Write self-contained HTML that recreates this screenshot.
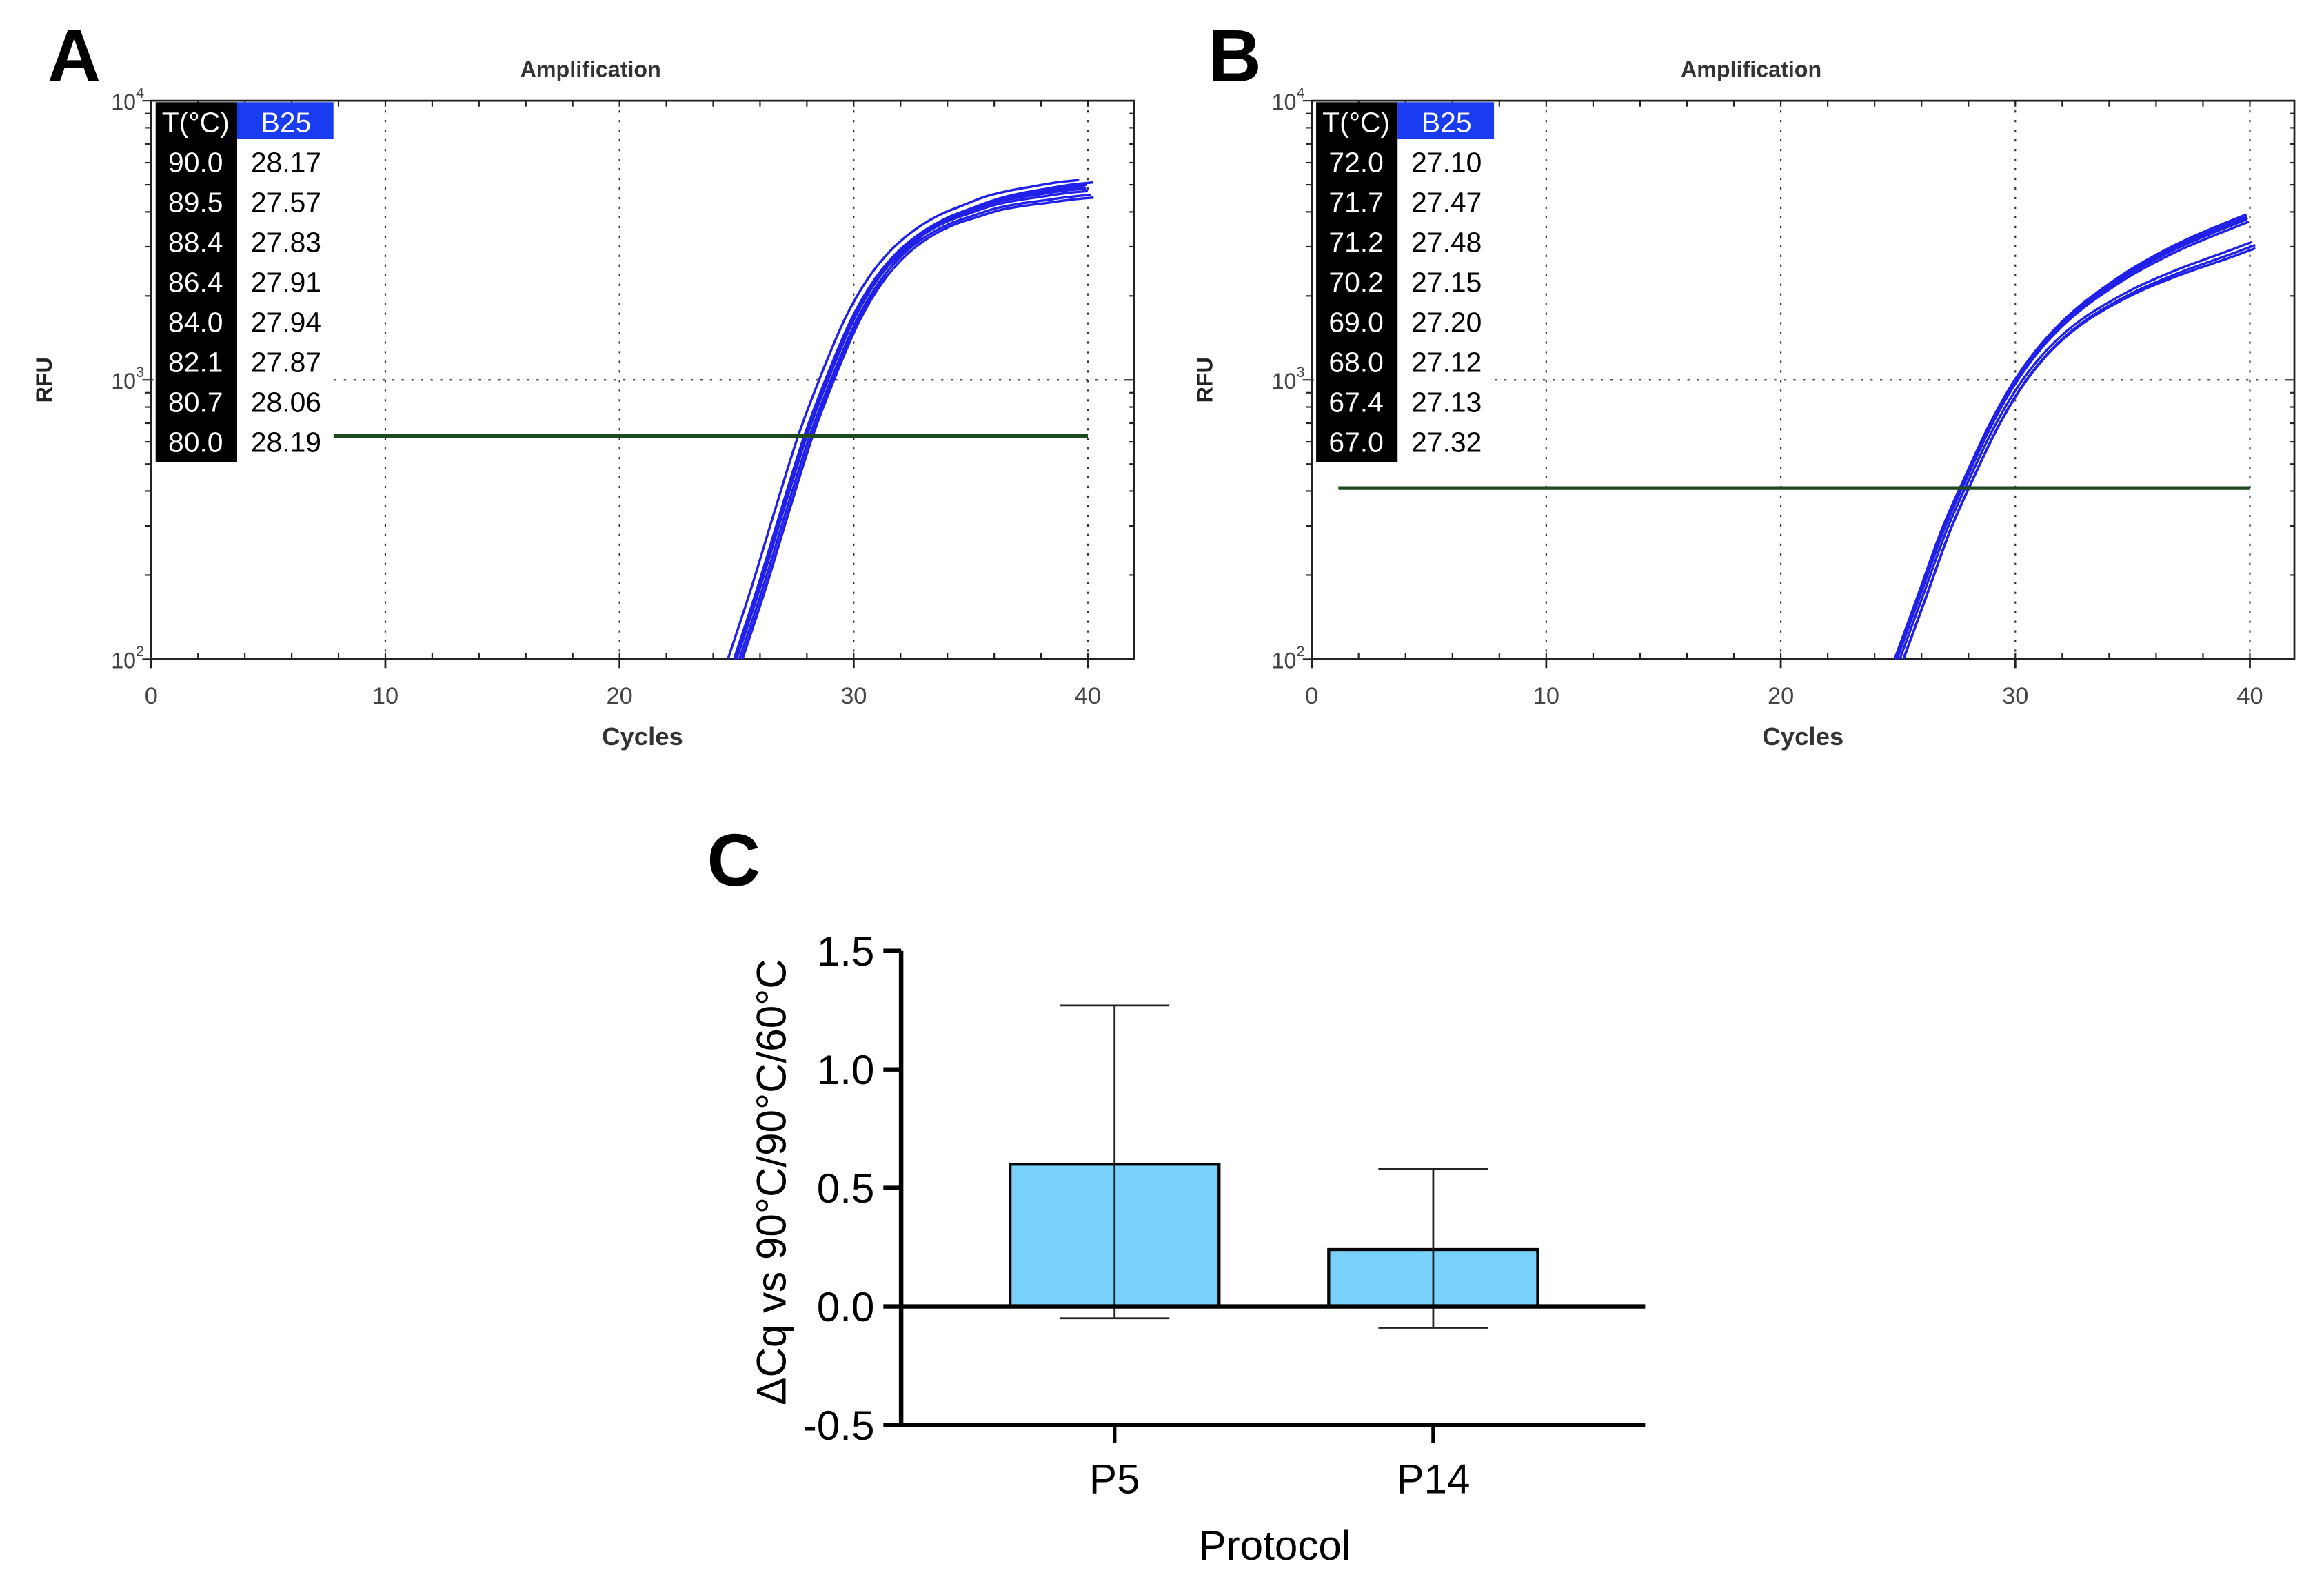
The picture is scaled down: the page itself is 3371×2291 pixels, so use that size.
<!DOCTYPE html>
<html><head><meta charset="utf-8"><style>
html,body{margin:0;padding:0;background:#fff}
svg{display:block}
text{font-family:"Liberation Sans",Arial,sans-serif}
</style></head><body>
<svg id="fig" xmlns="http://www.w3.org/2000/svg" width="3371" height="2291" viewBox="0 0 1568 1066" preserveAspectRatio="none">
<rect width="1568" height="1066" fill="#fff"/>
</svg>
<script>
// ---- Panel A data ----
const cyclesShape = [25,26,27,28,29,30,31,32,33,34,35,36,37,38,39,40];
const rfuShapeA = [100,180,340,630,1050,1650,2300,2900,3400,3800,4100,4400,4600,4750,4900,5000];
const tempsA = ["90.0","89.5","88.4","86.4","84.0","82.1","80.7","80.0"];
const cqA = [28.17,27.57,27.83,27.91,27.94,27.87,28.06,28.19];
const plateauA = [1.02,1.04,0.98,1.0,0.95,0.97,0.92,0.9];
const thresholdA = 630;
// ---- Panel B data ----
const rfuShapeB = [100,170,290,450,680,960,1260,1560,1850,2130,2420,2700,2980,3250,3520,3800];
const tempsB = ["72.0","71.7","71.2","70.2","69.0","68.0","67.4","67.0"];
const cqB = [27.10,27.47,27.48,27.15,27.20,27.12,27.13,27.32];
const plateauB = [1.03,0.8,0.78,1.0,0.97,1.01,0.99,0.82];
const thresholdB = 410;
const xTicks = [0,10,20,30,40];
// ---- Panel C data ----
const protocols = ["P5","P14"];
const meanDCq = [0.60,0.24];
const errHi = [1.27,0.58];
const errLo = [-0.05,-0.09];
const cTicks = [-0.5,0.0,0.5,1.0,1.5];
const cTickLabels = ["-0.5","0.0","0.5","1.0","1.5"];

const NS="http://www.w3.org/2000/svg";
const svg=document.getElementById('fig');
function el(tag,attrs,parent,txt){const e=document.createElementNS(NS,tag);for(const k in attrs)e.setAttribute(k,attrs[k]);if(txt!==undefined)e.textContent=txt;(parent||svg).appendChild(e);return e;}
function smooth(pts){let d='M'+pts[0][0].toFixed(2)+' '+pts[0][1].toFixed(2);
  for(let i=0;i<pts.length-1;i++){const p0=pts[Math.max(0,i-1)],p1=pts[i],p2=pts[i+1],p3=pts[Math.min(pts.length-1,i+2)];
    const c1=[p1[0]+(p2[0]-p0[0])/6,p1[1]+(p2[1]-p0[1])/6],c2=[p2[0]-(p3[0]-p1[0])/6,p2[1]-(p3[1]-p1[1])/6];
    d+=`C${c1[0].toFixed(2)} ${c1[1].toFixed(2)} ${c2[0].toFixed(2)} ${c2[1].toFixed(2)} ${p2[0].toFixed(2)} ${p2[1].toFixed(2)}`;}
  return d;}

function ampPanel(o){
  const g=el('g',{});
  
  
  const L=o.x0,R=o.x40,right=o.frameR,T=68,B=445;
  const xs=c=>L+(R-L)*c/40;
  const ys=v=>B-(B-T)*(Math.log10(v)-2)/2;
  const fr=el('rect',{x:L,y:T,width:right-L,height:B-T,fill:'none',stroke:'#222','stroke-width':1.3},g);
  
  for(const t of xTicks.slice(1)){const l=el('line',{x1:xs(t),x2:xs(t),y1:T,y2:B,stroke:'#333','stroke-width':1,'stroke-dasharray':'1.5 5'},g);}
  const hg=el('line',{x1:L,x2:right,y1:ys(1000),y2:ys(1000),stroke:'#333','stroke-width':1,'stroke-dasharray':'1.5 5'},g);
  
  for(let c=0;c<=42;c+=2){if(xs(c)>right)break;el('line',{x1:xs(c),x2:xs(c),y1:B,y2:B-4,stroke:'#222'},g);el('line',{x1:xs(c),x2:xs(c),y1:T,y2:T+4,stroke:'#222'},g);}
  for(const t of xTicks){el('line',{x1:xs(t),x2:xs(t),y1:B,y2:B+6,stroke:'#222','stroke-width':1.3},g);
    const tl=el('text',{x:xs(t),y:B+30,'font-size':16,'text-anchor':'middle',fill:'#444'},g,String(t));}
  for(let d=2;d<4;d++)for(let m=1;m<10;m++){const v=m*Math.pow(10,d);const y=ys(v);const len=m===1?6:4;
    el('line',{x1:L-len,x2:L,y1:y,y2:y,stroke:'#222'},g);el('line',{x1:right,x2:right-len+1,y1:y,y2:y,stroke:'#222'},g);}
  el('line',{x1:L-6,x2:L,y1:T,y2:T,stroke:'#222'},g);
  [[2,B],[3,ys(1000)],[4,T]].forEach(([p,y])=>{const t=el('text',{x:L-27,y:y+6,'font-size':15,fill:'#444'},g,'10');el('tspan',{dy:-8,'font-size':10},t,String(p));});
  const tt=el('text',{x:(L+right)/2-35,y:52,'font-size':15,'font-weight':'bold','text-anchor':'middle',fill:'#333'},g,'Amplification');
  const xl=el('text',{x:(L+right)/2,y:503,'font-size':17,'font-weight':'bold','text-anchor':'middle',fill:'#333'},g,'Cycles');
  const yl=el('text',{x:0,y:0,'font-size':15,'font-weight':'bold','text-anchor':'middle',fill:'#222',transform:`translate(${L-67},${ys(1000)}) rotate(-90)`},g,'RFU');
  const pl=el('text',{x:L-70,y:55,'font-size':50,'font-weight':'bold',fill:'#000'},g,o.letter);
  const cid='clip'+o.letter;const cp=el('clipPath',{id:cid},g);el('rect',{x:L,y:T,width:right-L,height:B-T},cp);
  const ref=o.cq.reduce((a,b)=>a+b)/o.cq.length;
  o.cq.forEach((cq,i)=>{const sh=cq-ref;const pts=[];
    o.shape.forEach((v,k)=>{const c=cyclesShape[k]+sh;const u=Math.min(1,Math.max(0,(cyclesShape[k]-27)/13));const s=u*u*(3-2*u);const f=1+(o.plat[i]-1)*s;pts.push([xs(c),ys(v*f)]);});
    const p=el('path',{d:smooth(pts),fill:'none',stroke:'#2020e8','stroke-width':1.6,'clip-path':`url(#${cid})`},g);
    });
  const th=el('line',{x1:o.thX,x2:R,y1:ys(o.th),y2:ys(o.th),stroke:'#1f4a1f','stroke-width':2.4},g);
  
  const tx=L+3,rowH=27,ty=69;
  const tb=el('g',{},g);
  el('rect',{x:tx,y:ty,width:55,height:rowH*9,fill:'#000'},tb);
  el('rect',{x:tx+55,y:ty,width:65,height:rowH-2,fill:'#1a3cf0'},tb);
  el('rect',{x:tx+55,y:ty+rowH-2,width:65,height:rowH*8+2,fill:'#fff'},tb);
  el('text',{x:tx+27,y:ty+20,'font-size':19,'text-anchor':'middle',fill:'#fff'},tb,'T(°C)');
  el('text',{x:tx+88,y:ty+20,'font-size':19,'text-anchor':'middle',fill:'#fff'},tb,'B25');
  o.temps.forEach((t,i)=>{const y=ty+rowH*(i+1)+20;
    const a=el('text',{x:tx+27,y:y,'font-size':19,'text-anchor':'middle',fill:'#fff'},tb,t);
    const b=el('text',{x:tx+88,y:y,'font-size':19,'text-anchor':'middle',fill:'#000'},tb,o.cq[i].toFixed(2));});
}
ampPanel({name:'panel-a-amplification',letter:'A',x0:102,x40:734,frameR:765,shape:rfuShapeA,temps:tempsA,cq:cqA,plat:plateauA,th:thresholdA,thX:225});
ampPanel({name:'panel-b-amplification',letter:'B',x0:885,x40:1518,frameR:1548,shape:rfuShapeB,temps:tempsB,cq:cqB,plat:plateauB,th:thresholdB,thX:903});

(function(){
  const g=el('g',{});
  const AX=608,XR=1110,Y0=882,per=160;
  const ys=v=>Y0-v*per;
  const centers=[752,967],bw=141;
  protocols.forEach((p,i)=>{
    const top=ys(meanDCq[i]);
    const r=el('rect',{x:centers[i]-bw/2,y:Math.min(top,Y0),width:bw,height:Math.abs(Y0-top),fill:'#77d1fb',stroke:'#000','stroke-width':2},g);
    
    const e=el('path',{d:`M${centers[i]} ${ys(errHi[i])}V${ys(errLo[i])}M${centers[i]-37} ${ys(errHi[i])}h74M${centers[i]-37} ${ys(errLo[i])}h74`,stroke:'#222','stroke-width':1.3,fill:'none'},g);
    
    el('line',{x1:centers[i],x2:centers[i],y1:ys(-0.5),y2:ys(-0.5)+12,stroke:'#000','stroke-width':2.5},g);
    const t=el('text',{x:centers[i],y:1008,'font-size':28,'text-anchor':'middle',fill:'#000'},g,p);
  });
  const zl=el('line',{x1:AX,x2:XR,y1:Y0,y2:Y0,stroke:'#000','stroke-width':3},g);
  const xa=el('line',{x1:AX,x2:XR,y1:ys(-0.5),y2:ys(-0.5),stroke:'#000','stroke-width':3},g);
  const ya=el('line',{x1:AX,x2:AX,y1:ys(1.5),y2:ys(-0.5)+1.5,stroke:'#000','stroke-width':3},g);
  cTicks.forEach((v,i)=>{el('line',{x1:AX-12,x2:AX,y1:ys(v),y2:ys(v),stroke:'#000','stroke-width':3},g);
    const t=el('text',{x:AX-18,y:ys(v)+10,'font-size':28,'text-anchor':'end',fill:'#000'},g,cTickLabels[i]);});
  const xt=el('text',{x:860,y:1053,'font-size':28,'text-anchor':'middle',fill:'#000'},g,'Protocol');
  const yt=el('text',{x:0,y:0,'font-size':28,'text-anchor':'middle',fill:'#000',transform:'translate(530,798) rotate(-90)'},g,'ΔCq vs 90°C/90°C/60°C');
  const pl=el('text',{x:477,y:598,'font-size':50,'font-weight':'bold',fill:'#000'},g,'C');
})();
</script>
</body></html>
